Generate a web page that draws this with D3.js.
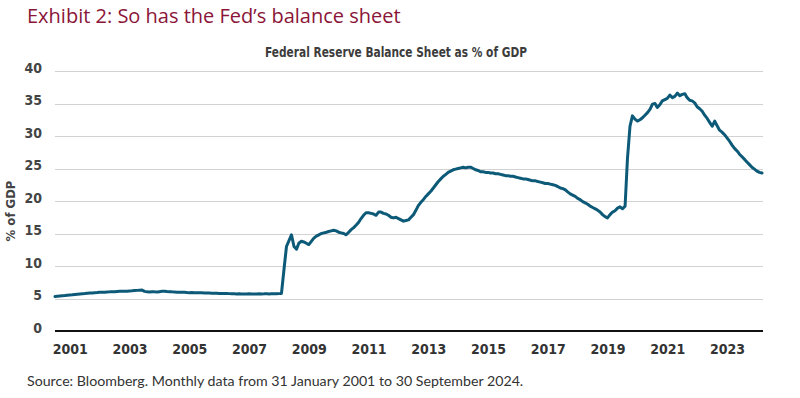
<!DOCTYPE html>
<html>
<head>
<meta charset="utf-8">
<script src="https://cdn.jsdelivr.net/npm/d3@7"></script>
<style>
  html, body { margin: 0; padding: 0; background: #fff; }
  svg { display: block; }
  .cond { font-family: "Liberation Sans Narrow", "DejaVu Sans Condensed", "Roboto Condensed", sans-serif; font-stretch: condensed; }
</style>
</head>
<body>
<svg id="chart" width="800" height="398"></svg>
<script>
// ---- Data (monthly, Jan 2001 .. Sep 2024), % of GDP ----
const startYear = 2001;
const startMonth = 0; // January
const y2001 = [5.30,5.35,5.38,5.42,5.45,5.50,5.55,5.58,5.62,5.66,5.70,5.74];
const y2002 = [5.76,5.80,5.83,5.86,5.90,5.92,5.95,5.97,5.98,6.00,6.02,6.05];
const y2003 = [6.05,6.08,6.10,6.12,6.10,6.12,6.15,6.18,6.22,6.25,6.28,6.30];
const y2004 = [6.10,6.02,6.00,6.05,6.02,6.00,6.05,6.10,6.12,6.08,6.05,6.02];
const y2005 = [6.00,5.98,5.95,5.98,5.95,5.92,5.90,5.92,5.90,5.88,5.90,5.88];
const y2006 = [5.85,5.86,5.84,5.82,5.80,5.80,5.78,5.78,5.76,5.78,5.75,5.74];
const y2007 = [5.72,5.70,5.72,5.70,5.68,5.70,5.72,5.70,5.68,5.70,5.72,5.70];
const y2008 = [5.72,5.75,5.70,5.72,5.74,5.72,5.75,5.78,9.50,13.0,13.9,14.8];
const y2009 = [13.0,12.6,13.5,13.8,13.7,13.5,13.3,13.8,14.3,14.6,14.8,15.0];
const y2010 = [15.1,15.2,15.3,15.4,15.5,15.4,15.2,15.1,15.0,14.8,15.2,15.6];
const y2011 = [15.9,16.3,16.7,17.3,17.8,18.2,18.2,18.1,18.0,17.8,18.3,18.3];
const y2012 = [18.1,18.0,17.8,17.5,17.4,17.5,17.3,17.1,16.9,17.0,17.1,17.5];
const y2013 = [17.9,18.6,19.3,19.8,20.2,20.7,21.1,21.5,22.0,22.5,23.0,23.4];
const y2014 = [23.8,24.1,24.4,24.6,24.8,24.9,25.0,25.1,25.2,25.1,25.2,25.2];
const y2015 = [25.0,24.8,24.7,24.5,24.5,24.4,24.4,24.3,24.3,24.2,24.2,24.1];
const y2016 = [24.0,23.9,23.9,23.8,23.8,23.7,23.6,23.5,23.4,23.4,23.3,23.2];
const y2017 = [23.1,23.1,23.0,22.9,22.8,22.7,22.7,22.6,22.5,22.4,22.2,22.0];
const y2018 = [21.9,21.7,21.4,21.1,20.9,20.7,20.4,20.2,19.9,19.7,19.5,19.2];
const y2019 = [19.0,18.8,18.6,18.3,17.9,17.6,17.4,17.9,18.3,18.5,18.9,19.1];
const y2020 = [18.8,19.2,26.5,31.5,33.1,32.6,32.3,32.5,32.8,33.2,33.6,34.1];
const y2021 = [34.9,35.0,34.4,34.8,35.4,35.6,35.8,36.3,35.9,36.1,36.6,36.2];
const y2022 = [36.4,36.5,35.9,35.5,35.4,35.1,34.5,34.2,33.8,33.2,32.7,32.1];
const y2023 = [31.5,32.3,31.6,30.9,30.6,30.2,29.7,29.2,28.6,28.1,27.7,27.2];
const y2024 = [26.8,26.4,26.0,25.6,25.2,24.9,24.6,24.4,24.3];

const seriesByYear = [y2001,y2002,y2003,y2004,y2005,y2006,y2007,y2008,y2009,y2010,y2011,y2012,
                      y2013,y2014,y2015,y2016,y2017,y2018,y2019,y2020,y2021,y2022,y2023,y2024];
const yTicks = [0,5,10,15,20,25,30,35,40];
const xTickYears = [2001,2003,2005,2007,2009,2011,2013,2015,2017,2019,2021,2023];

const titleText = "Exhibit 2: So has the Fed’s balance sheet";
const chartTitle = "Federal Reserve Balance Sheet as % of GDP";
const yAxisTitle = "% of GDP";
const sourceText = "Source: Bloomberg. Monthly data from 31 January 2001 to 30 September 2024.";

// Build the flat monthly table
const data = [];
seriesByYear.forEach((arr, yi) => {
  arr.forEach((v, mi) => data.push({ date: new Date(startYear + yi, startMonth + mi, 1), value: v }));
});

// ---- Drawing ----
const svg = d3.select("#chart");
const plot = { left: 55, right: 762, top: 71, bottom: 331 };

const x = d3.scaleTime()
  .domain([data[0].date, data[data.length - 1].date])
  .range([plot.left, plot.right]);
const y = d3.scaleLinear().domain([0, 40]).range([plot.bottom, plot.top]);

// Title
svg.append("text")
  .attr("x", 27).attr("y", 23)
  .attr("fill", "#8a1538")
  .attr("font-family", "'Open Sans', Lato, sans-serif")
  .attr("font-size", 20)
  .text(titleText);

// Chart title
svg.append("text")
  .attr("class", "cond")
  .attr("x", 265).attr("y", 57)
  .attr("fill", "#3c3c3c")
  .attr("font-weight", "bold")
  .attr("font-size", 14.5)
  .attr("textLength", 262)
  .attr("lengthAdjust", "spacingAndGlyphs")
  .text(chartTitle);

// Gridlines
svg.append("g")
  .selectAll("line")
  .data(yTicks.filter(t => t !== 0))
  .join("line")
  .attr("x1", plot.left).attr("x2", plot.right + 1)
  .attr("y1", d => Math.round(y(d)) + 0.5).attr("y2", d => Math.round(y(d)) + 0.5)
  .attr("stroke", "#d2d2d2").attr("stroke-width", 1.2);

// Y axis labels
const yAxis = d3.axisLeft(y).tickValues(yTicks).tickSize(0).tickPadding(0);
const yg = svg.append("g").attr("transform", `translate(42,0)`).call(yAxis);
yg.select(".domain").remove();
yg.selectAll("text")
  .attr("class", "cond")
  .attr("fill", "#444")
  .attr("font-size", 14)
  .attr("font-weight", "bold")
  .attr("dy", "0.1em");

// Y axis title
svg.append("text")
  .attr("class", "cond")
  .attr("transform", `translate(15,${(plot.top + plot.bottom) / 2 + 10}) rotate(-90)`)
  .attr("text-anchor", "middle")
  .attr("fill", "#444")
  .attr("font-weight", "bold")
  .attr("font-size", 13)
  .text(yAxisTitle);

// X axis (labels centred on the middle of each year)
const xAxis = d3.axisBottom(x)
  .tickValues(xTickYears.map(yr => new Date(yr, 6, 1)))
  .tickFormat(d => d3.timeFormat("%Y")(d))
  .tickSize(0).tickPadding(0);
const xg = svg.append("g").attr("transform", `translate(0,${plot.bottom + 13})`).call(xAxis);
xg.select(".domain").remove();
xg.selectAll("text")
  .attr("class", "cond")
  .attr("fill", "#333")
  .attr("font-size", 14)
  .attr("font-weight", "bold");

// Baseline
svg.append("line")
  .attr("x1", plot.left).attr("x2", plot.right + 1)
  .attr("y1", y(0)).attr("y2", y(0))
  .attr("stroke", "#111").attr("stroke-width", 2.2);

// Line
const line = d3.line().x(d => x(d.date)).y(d => y(d.value));
svg.append("path")
  .datum(data)
  .attr("d", line)
  .attr("fill", "none")
  .attr("stroke", "#0c5a78")
  .attr("stroke-width", 3)
  .attr("stroke-linejoin", "round")
  .attr("stroke-linecap", "round");

// Source
svg.append("text")
  .attr("x", 27).attr("y", 386)
  .attr("fill", "#333")
  .attr("font-family", "Lato, 'Open Sans', sans-serif")
  .attr("font-size", 14.2)
  .text(sourceText);
</script>
</body>
</html>
